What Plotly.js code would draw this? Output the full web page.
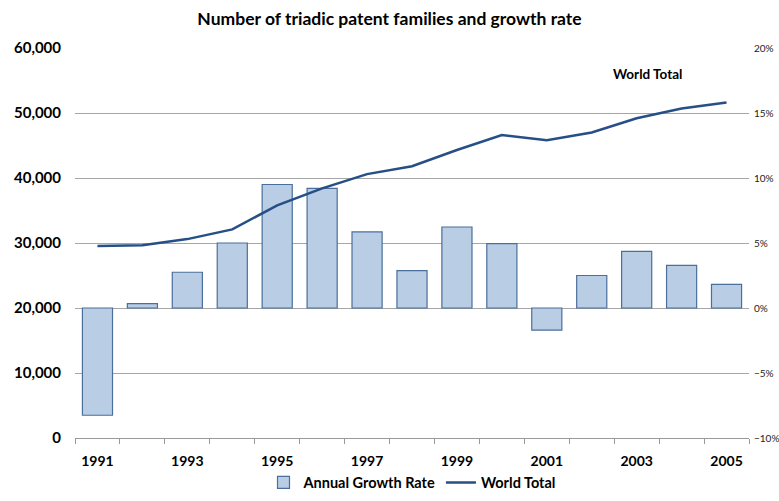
<!DOCTYPE html>
<html><head><meta charset="utf-8">
<script src="https://cdn.plot.ly/plotly-3.0.1.min.js"></script>
<style>body{margin:0;padding:0;background:#fff}#c{width:779px;height:501px}</style>
</head><body><div id="c"></div>
<script>
var years = [1991,1992,1993,1994,1995,1996,1997,1998,1999,2000,2001,2002,2003,2004,2005];
var growthRate = [-0.0825,0.0033,0.0275,0.050,0.095,0.092,0.0585,0.0287,0.0623,0.0495,-0.017,0.025,0.0435,0.0328,0.0182];
var worldTotal = [29540,29650,30600,32100,35800,38400,40600,41800,44300,46600,45800,47000,49200,50700,51600];
var xTickLabels = ['1991','1993','1995','1997','1999','2001','2003','2005'];
var xTickVals = xTickLabels.map(Number);

var FONT = 'Lato, "Open Sans", sans-serif';
var traces = [
  {type:'bar', name:'Annual Growth Rate', x:years, y:growthRate, yaxis:'y', width:0.67,
   marker:{color:'#b9cde5', line:{color:'#4a6f9c', width:1.2}}},
  {type:'scatter', mode:'lines', name:'World Total', x:years, y:worldTotal, yaxis:'y2',
   line:{color:'#254f85', width:2.5}}
];
var layout = {
  width:779, height:501,
  margin:{l:75, r:30, t:48, b:63, autoexpand:false},
  paper_bgcolor:'#fff', plot_bgcolor:'#fff',
  font:{family:FONT, color:'#000'},
  title:{text:'<b>Number of triadic patent families and growth rate</b>', x:0.5, xanchor:'center', y:0.962, yanchor:'middle', font:{size:17.5, family:FONT, color:'#000'}},
  showlegend:true,
  legend:{orientation:'h', x:0.5, xanchor:'center', yref:'container', y:0.005, yanchor:'bottom', font:{size:14.5, family:FONT, color:'#000', weight:'bold'}, itemwidth:30, tracegroupgap:0, traceorder:'normal'},
  xaxis:{range:[1990.5,2005.5], tickvals:xTickVals, ticktext:xTickLabels, ticks:'', showgrid:false, zeroline:false,
         showline:true, linecolor:'#999', linewidth:1, automargin:false, ticklabelstandoff:10,
         tickfont:{size:14, family:FONT, color:'#000', weight:'bold'},
         minor:{ticks:'outside', tick0:1990.5, dtick:1, ticklen:5, tickcolor:'#999', showgrid:false}},
  yaxis:{side:'right', range:[-0.10,0.20], dtick:0.05, tickformat:'.0%', showgrid:true, gridcolor:'#a6a6a6', gridwidth:1,
         zeroline:false, showline:false, ticks:'', automargin:false, ticklabelstandoff:4, tickfont:{size:10, family:FONT, color:'#222'}},
  yaxis2:{side:'left', overlaying:'y', range:[0,60000], dtick:10000, tickformat:',d', showgrid:false, zeroline:false,
          showline:false, ticks:'', automargin:false, ticklabelstandoff:13, tickfont:{size:15, family:FONT, color:'#000', weight:'bold'}},
  annotations:[{text:'<b>World Total</b>', xref:'paper', yref:'paper', x:0.85, y:0.96, showarrow:false, xanchor:'center', font:{size:13.5, family:FONT, color:'#000'}}]
};
Plotly.newPlot('c', traces, layout, {displayModeBar:false, staticPlot:true});
</script></body></html>
